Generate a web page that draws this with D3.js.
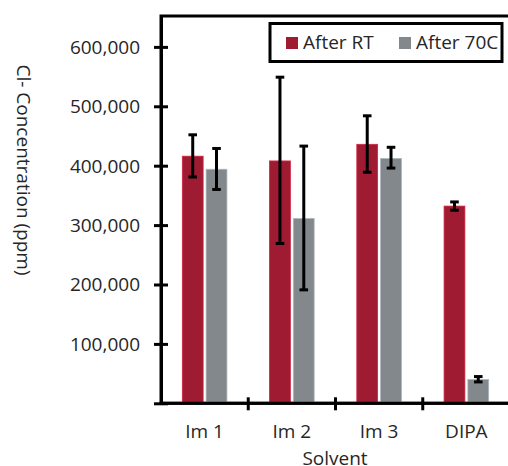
<!DOCTYPE html>
<html>
<head>
<meta charset="utf-8">
<script src="https://cdn.jsdelivr.net/npm/d3@7"></script>
<style>
  html, body { margin: 0; padding: 0; background: #fff; }
  svg { display: block; }
  text { font-family: "Open Sans", sans-serif; fill: #262626; }
</style>
</head>
<body>
<svg id="chart" width="508" height="466"></svg>
<script>
const categories = ["Im 1", "Im 2", "Im 3", "DIPA"];
const seriesNames = ["After RT", "After 70C"];
const afterRT = [416000, 408000, 436000, 332000];
const afterRTLow = [381000, 269000, 389000, 325000];
const afterRTHigh = [452000, 549000, 484000, 339000];
const after70C = [394000, 311000, 412000, 40000];
const after70CLow = [360000, 191000, 396000, 36000];
const after70CHigh = [429000, 433000, 431000, 45000];
const yTicks = [100000, 200000, 300000, 400000, 500000, 600000];
const yMax = 652000;
const colors = ["#9e1b32", "#82888c"];

const svg = d3.select("#chart");
const mLeft = 161, mRight = 510, mTop = 16, mBottom = 403.3;

const x = d3.scaleBand().domain(categories).range([mLeft, mRight]).padding(0);
const bw = x.bandwidth();
const barW = 19.5, gap = 5.6;
const x1 = d3.scaleBand().domain(seriesNames)
  .range([bw / 2 - barW - gap / 2, bw / 2 + barW + gap / 2])
  .paddingInner(gap / (2 * barW + gap)).paddingOuter(0);
const y = d3.scaleLinear().domain([0, yMax]).range([mBottom, mTop]);

const series = [
  { name: seriesNames[0], vals: afterRT, lo: afterRTLow, hi: afterRTHigh, color: colors[0] },
  { name: seriesNames[1], vals: after70C, lo: after70CLow, hi: after70CHigh, color: colors[1] }
];

// frame
svg.append("rect")
  .attr("x", mLeft).attr("y", mTop)
  .attr("width", mRight - mLeft + 10).attr("height", mBottom - mTop)
  .attr("fill", "none").attr("stroke", "#000").attr("stroke-width", 3);

// bars
series.forEach(s => {
  const g = svg.append("g");
  g.selectAll("rect").data(categories).join("rect")
    .attr("x", (c) => x(c) + x1(s.name))
    .attr("y", (c, i) => y(s.vals[i]))
    .attr("width", x1.bandwidth())
    .attr("height", (c, i) => y(0) - y(s.vals[i]))
    .attr("fill", s.color)
    .attr("stroke", d3.color(s.color).brighter(0.8))
    .attr("stroke-width", 0.8);
});

// error bars
series.forEach(s => {
  const g = svg.append("g").attr("stroke", "#000").attr("stroke-width", 3);
  categories.forEach((c, i) => {
    const cx = x(c) + x1(s.name) + x1.bandwidth() / 2;
    g.append("line").attr("x1", cx).attr("x2", cx)
      .attr("y1", y(s.lo[i])).attr("y2", y(s.hi[i]));
    [s.lo[i], s.hi[i]].forEach(v => {
      g.append("line").attr("x1", cx - 4.3).attr("x2", cx + 4.3)
        .attr("y1", y(v)).attr("y2", y(v));
    });
  });
});

// y axis
const yAxis = d3.axisLeft(y).tickValues([0].concat(yTicks))
  .tickSizeInner(7).tickSizeOuter(0)
  .tickFormat(d => d === 0 ? "" : d3.format(",")(d));
const gy = svg.append("g").attr("transform", `translate(${mLeft},0)`).call(yAxis);
gy.select(".domain").attr("stroke", "#000").attr("stroke-width", 3);
gy.selectAll(".tick line").attr("x1", -7).attr("x2", 7)
  .attr("stroke", "#000").attr("stroke-width", 3);
gy.selectAll(".tick text").attr("x", -21).attr("dy", "0.34em")
  .style("font-size", "19px").style("font-family", "'Open Sans', sans-serif").attr("fill", "#262626");

// x axis
const gx = svg.append("g").attr("transform", `translate(0,${mBottom})`);
gx.append("line").attr("x1", mLeft - 1.5).attr("x2", mRight + 10)
  .attr("stroke", "#000").attr("stroke-width", 3);
const bounds = categories.map(c => x(c)).concat([x(categories[categories.length - 1]) + bw]);
gx.selectAll("line.tk").data(bounds.slice(1, -1)).join("line").attr("class", "tk")
  .attr("x1", d => d).attr("x2", d => d).attr("y1", -6).attr("y2", 7)
  .attr("stroke", "#000").attr("stroke-width", 3);
gx.selectAll("text").data(categories).join("text")
  .attr("x", c => x(c) + bw / 2).attr("y", 35)
  .attr("text-anchor", "middle").style("font-size", "19px").text(c => c);

// axis titles
svg.append("text").attr("x", 335).attr("y", 465)
  .attr("text-anchor", "middle").style("font-size", "19px").text("Solvent");
svg.append("text")
  .attr("transform", "translate(17,170) rotate(90)")
  .attr("text-anchor", "middle").style("font-size", "19px")
  .text("Cl- Concentration (ppm)");

// legend
const lg = svg.append("g");
lg.append("rect").attr("x", 270).attr("y", 23.5).attr("width", 232).attr("height", 38)
  .attr("fill", "#fff").attr("stroke", "#000").attr("stroke-width", 3);
const legendX = [286, 399];
series.forEach((s, i) => {
  lg.append("rect").attr("x", legendX[i]).attr("y", 37).attr("width", 12).attr("height", 12)
    .attr("fill", s.color);
  lg.append("text").attr("x", legendX[i] + 17).attr("y", 49)
    .style("font-size", "19px").text(s.name);
});
</script>
</body>
</html>
